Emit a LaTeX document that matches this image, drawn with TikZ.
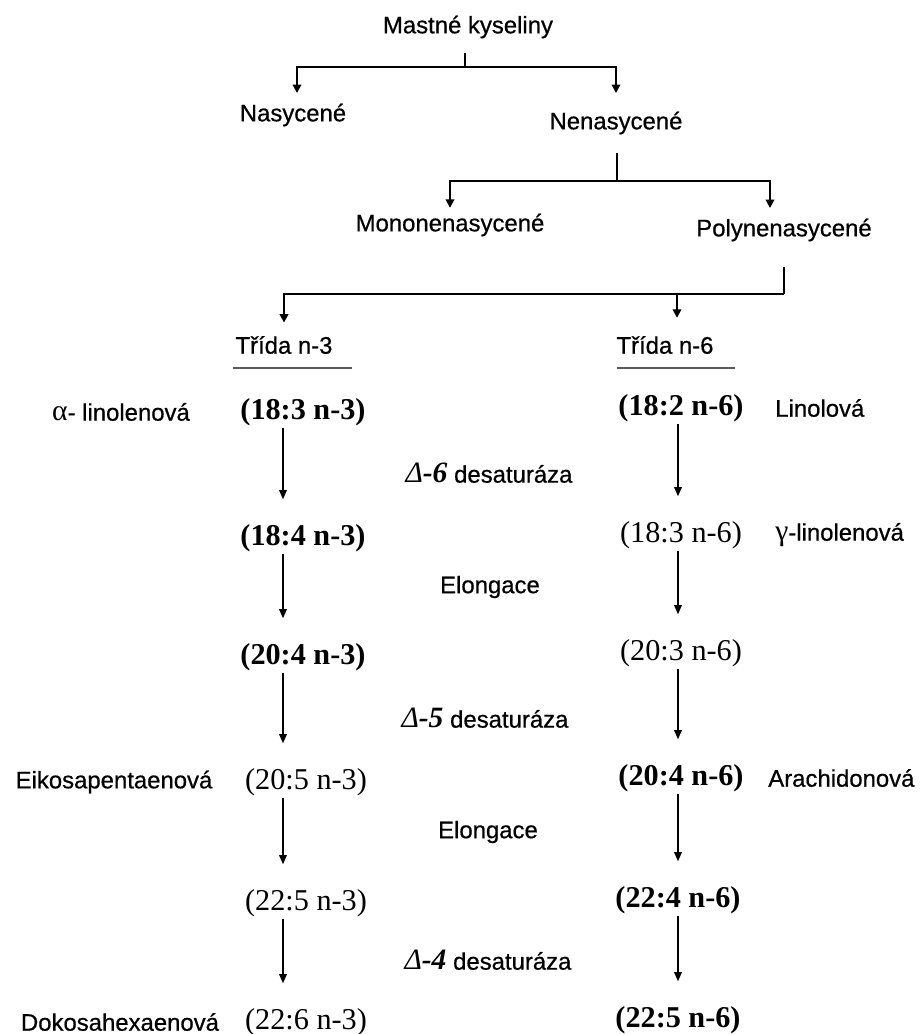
\documentclass[tikz,border=0pt]{standalone}
\usepackage{fontspec}
\setmainfont{Liberation Sans}
\newfontfamily\lab[FakeBold=0.6]{Liberation Sans}
\newfontfamily\tm{Liberation Serif}
\usetikzlibrary{arrows.meta}
\newcommand{\dlt}[1]{{\tm\fontsize{21}{24}\selectfont\itshape Δ\bfseries -#1}}
\newcommand{\grk}[1]{{\tm\fontsize{21}{24}\selectfont #1}}

\begin{document}
\begin{tikzpicture}[x=0.025cm, y=-0.025cm,
	lab/.style={font=\lab\fontsize{17}{20}\selectfont, inner sep=0pt},
	fa/.style={font=\tm\fontsize{21.5}{24}\selectfont, inner sep=0pt},
	fb/.style={font=\tm\bfseries\fontsize{21.5}{24}\selectfont, inner sep=0pt},
	tree/.style={line width=1.4pt},
	tarr/.style={tree, -{Triangle[length=6pt,width=6pt]}},
	chain/.style={line width=0.9pt, -{Triangle[length=6.5pt,width=5.5pt]}, shorten <=0.05cm, shorten >=0.62cm},
	uline/.style={line width=1.8pt, black!65}]

	\useasboundingbox (0,0) rectangle (924,1034);

	% tree part
	\node[lab] (mk) at (468,27) {Mastné kyseliny};
	\node[lab] (nas) at (293,115) {Nasycené};
	\node[lab] (nen) at (616,123) {Nenasycené};
	\node[lab] (mono) at (450,225) {Mononenasycené};
	\node[lab] (poly) at (784,230) {Polynenasycené};
	\node[lab] (t3) at (284,345) {Třída n-3};
	\node[lab] (t6) at (665,345) {Třída n-6};

	\coordinate (j1) at (465,67);
	\coordinate (j2) at (617,181);
	\coordinate (j3) at (784,294);
	\coordinate (k1) at (297,0);
	\coordinate (k2) at (770,0);
	\coordinate (k3) at (677,0);

	\draw[tree, shorten <=0.36cm] (mk.south -| j1) -- (j1);
	\draw[tarr, shorten >=0.26cm] (j1) -| (k1 |- nas.north);
	\draw[tarr, shorten >=0.46cm] (j1) -| (nen);

	\draw[tree, shorten <=0.46cm] (nen.south -| j2) -- (j2);
	\draw[tarr, shorten >=0.14cm] (j2) -| (mono);
	\draw[tarr, shorten >=0.26cm] (j2) -| (k2 |- poly.north);

	\draw[tree, shorten <=0.64cm] (poly.south) -- (j3);
	\draw[tarr, shorten >=0.33cm] (j3) -| (t3);
	\draw[tarr, shorten >=0.45cm] (j3 -| k3) -- (k3 |- t6.north);

	\draw[uline] (233,368) -- (352,368);
	\draw[uline] (617,368) -- (735,368);

	% n-3 column
	\node[fb] (p1) at (303,412) {(18:3 n-3)};
	\node[fb] (p2) at (303,538) {(18:4 n-3)};
	\node[fb] (p3) at (303,657) {(20:4 n-3)};
	\node[fa] (p4) at (306,782) {(20:5 n-3)};
	\node[fa] (p5) at (306,903) {(22:5 n-3)};
	\node[fa] (p6) at (306,1022) {(22:6 n-3)};

	% n-6 column
	\node[fb] (q1) at (681,408) {(18:2 n-6)};
	\node[fa] (q2) at (681,535) {(18:3 n-6)};
	\node[fa] (q3) at (681,653) {(20:3 n-6)};
	\node[fb] (q4) at (681,778) {(20:4 n-6)};
	\node[fb] (q5) at (678,900) {(22:4 n-6)};
	\node[fb] (q6) at (678,1020) {(22:5 n-6)};

	\coordinate (cl) at (283,0);
	\coordinate (cr) at (678,0);
	\foreach \i/\j in {1/2,2/3,3/4,4/5,5/6}{
		\draw[chain] (p\i.south -| cl) -- (p\j.north -| cl);
		\draw[chain] (q\i.south -| cr) -- (q\j.north -| cr);
	}

	% names
	\node[lab] (alin) at (121,412) {\grk{α}- linolenová};
	\node[lab] (eik) at (114,782) {Eikosapentaenová};
	\node[lab] (dok) at (120,1022) {Dokosahexaenová};
	\node[lab, anchor=west] (lin) at (775,408) {Linolová};
	\node[lab, anchor=west] (glin) at (775,535) {\grk{γ}-linolenová};
	\node[lab, anchor=west] (ara) at (768,778) {Arachidonová};

	% enzymes
	\node[lab] (d6) at (489,473) {\dlt{6} desaturáza};
	\node[lab] (el1) at (490,587) {Elongace};
	\node[lab] (d5) at (485,718) {\dlt{5} desaturáza};
	\node[lab] (el2) at (488,832) {Elongace};
	\node[lab] (d4) at (488,960) {\dlt{4} desaturáza};

\end{tikzpicture}
\end{document}
